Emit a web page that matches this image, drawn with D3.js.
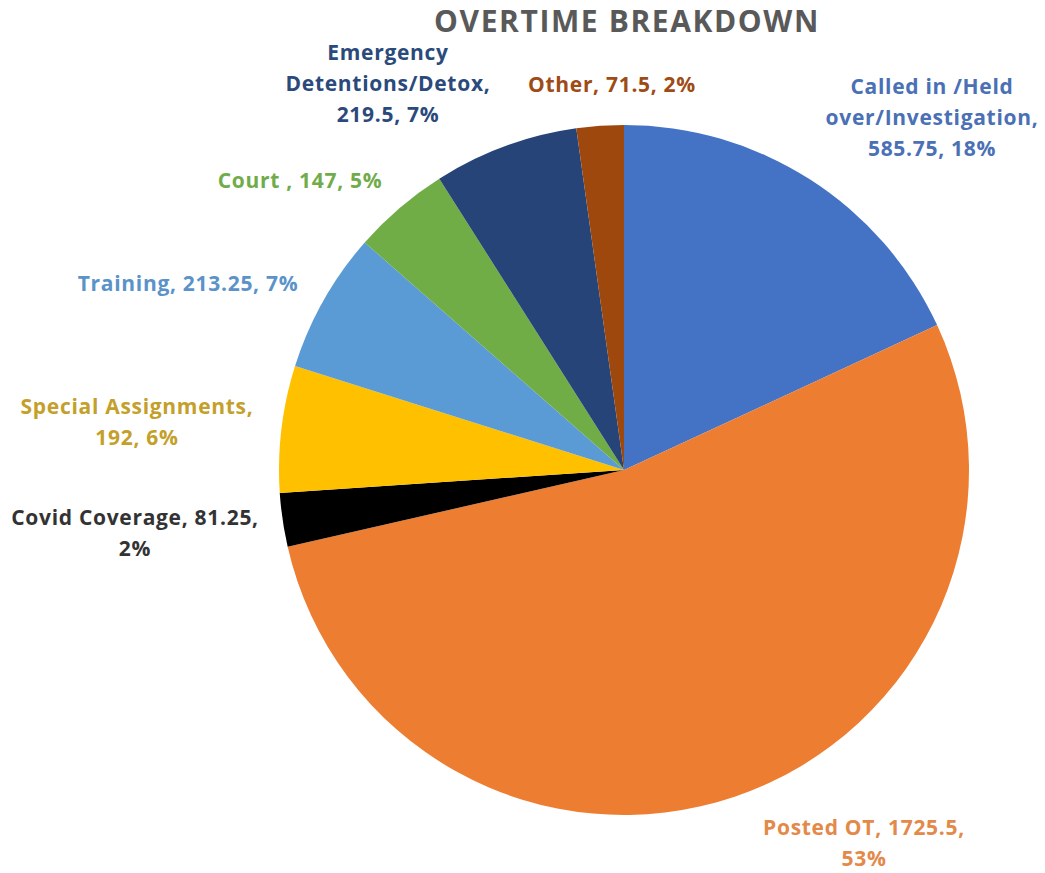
<!DOCTYPE html>
<html>
<head>
<meta charset="utf-8">
<script src="https://cdn.jsdelivr.net/npm/d3@7/dist/d3.min.js"></script>
<style>
  html, body { margin: 0; padding: 0; background: #ffffff; }
  svg { display: block; }
  text { font-family: "Open Sans", Lato, sans-serif; font-weight: 700; }
</style>
</head>
<body>
<svg id="chart" width="1045" height="873"></svg>
<script>
// Overtime hours by category, clockwise from 12 o'clock
const categories = [
  "Called in /Held over/Investigation",
  "Posted OT",
  "Covid Coverage",
  "Special Assignments",
  "Training",
  "Court ",
  "Emergency Detentions/Detox",
  "Other"
];
const hours = [585.75, 1725.5, 81.25, 192, 213.25, 147, 219.5, 71.5];
const percentLabels = ["18%", "53%", "2%", "6%", "7%", "5%", "7%", "2%"];

// Label text broken into lines as displayed
const labelLines = [
  ["Called in /Held", "over/Investigation,", "585.75, 18%"],
  ["Posted OT, 1725.5,", "53%"],
  ["Covid Coverage, 81.25,", "2%"],
  ["Special Assignments,", "192, 6%"],
  ["Training, 213.25, 7%"],
  ["Court , 147, 5%"],
  ["Emergency", "Detentions/Detox,", "219.5, 7%"],
  ["Other, 71.5, 2%"]
];

// Styling
const sliceColors = ["#4472C4", "#ED7D31", "#000000", "#FFC000", "#5B9BD5", "#70AD47", "#264478", "#9E480E"];
const labelColors = ["#4A70B5", "#E3894A", "#333333", "#C4A02A", "#5B93C9", "#71AC4A", "#2B4A7C", "#9E4B16"];

// Label block centres, relative to pie centre
const labelOffsets = [
  [308, -353], [240, 373], [-489, 63], [-487, -48], [-436, -187],
  [-324, -290], [-236, -387], [-12, -386]
];

const svg = d3.select("#chart");
const cx = 624, cy = 470, radius = 345;
const fontSize = 21, lineHeight = 31;

svg.append("text")
  .attr("x", 627).attr("y", 32)
  .attr("text-anchor", "middle")
  .attr("fill", "#595959")
  .style("font-size", "30px")
  .style("letter-spacing", "1.6px")
  .text("OVERTIME BREAKDOWN");

const data = categories.map((c, i) => ({ name: c, value: hours[i], i }));

const pie = d3.pie().value(d => d.value).sort(null);
const arc = d3.arc().innerRadius(0).outerRadius(radius);

const g = svg.append("g").attr("transform", `translate(${cx},${cy})`);

g.selectAll("path")
  .data(pie(data))
  .join("path")
  .attr("d", arc)
  .attr("fill", d => sliceColors[d.data.i]);

const labels = g.selectAll("text.lbl")
  .data(pie(data))
  .join("text")
  .attr("class", "lbl")
  .attr("text-anchor", "middle")
  .attr("fill", d => labelColors[d.data.i])
  .style("font-size", fontSize + "px")
  .style("letter-spacing", "0.7px");

labels.each(function(d) {
  const lines = labelLines[d.data.i];
  const [ox, oy] = labelOffsets[d.data.i];
  const top = oy - (lines.length - 1) * lineHeight / 2;
  const t = d3.select(this);
  lines.forEach((ln, k) => {
    t.append("tspan")
      .attr("x", ox)
      .attr("y", top + k * lineHeight + fontSize * 0.36)
      .text(ln);
  });
});
</script>
</body>
</html>
